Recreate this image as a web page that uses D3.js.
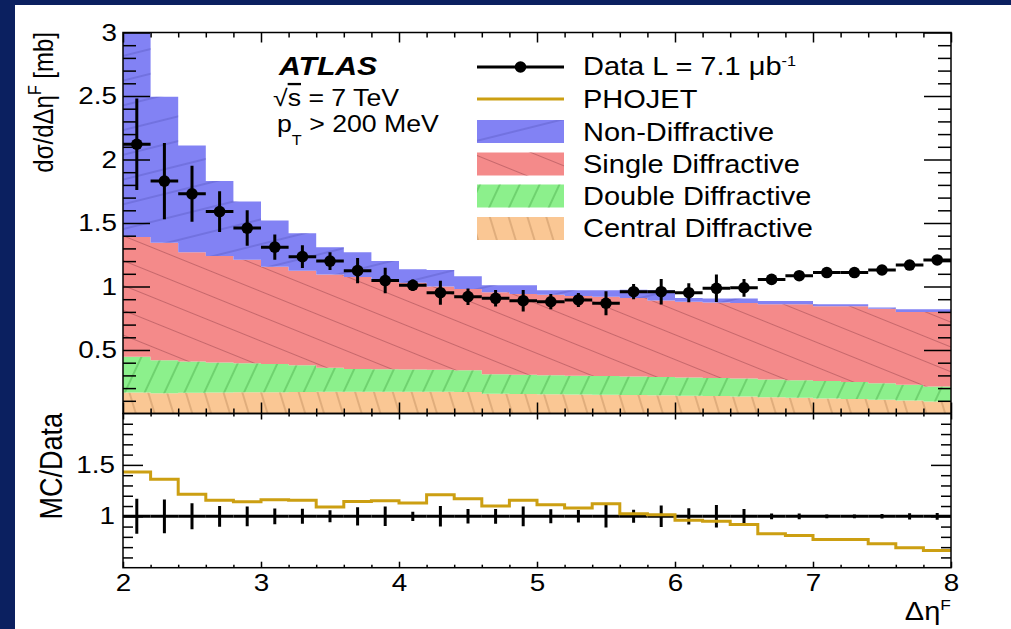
<!DOCTYPE html>
<html>
<head>
<meta charset="utf-8">
<script src="https://cdn.jsdelivr.net/npm/d3@7"></script>
<style>
  html, body { margin: 0; padding: 0; background: #ffffff; }
  svg { display: block; }
  text { font-family: "Liberation Sans", Arial, Helvetica, sans-serif; fill: #000; }
</style>
</head>
<body>
<svg id="chart" width="1011" height="629"></svg>
<script>
// ---- Δη^F bins (width 0.2) ----
const binCenters = [2.1, 2.3, 2.5, 2.7, 2.9, 3.1, 3.3, 3.5, 3.7, 3.9,
                    4.1, 4.3, 4.5, 4.7, 4.9, 5.1, 5.3, 5.5, 5.7, 5.9,
                    6.1, 6.3, 6.5, 6.7, 6.9, 7.1, 7.3, 7.5, 7.7, 7.9];
const binHalfWidth = 0.1;

// ---- measured dσ/dΔη^F [mb] ----
const dataValues = [2.12, 1.83, 1.73, 1.59, 1.46, 1.31, 1.235, 1.20, 1.125, 1.047,
                    1.01, 0.951, 0.92, 0.907, 0.888, 0.88, 0.894, 0.868, 0.959, 0.959,
                    0.951, 0.986, 0.99, 1.056, 1.085, 1.11, 1.11, 1.13, 1.169, 1.209];
const dataErrors = [0.36, 0.30, 0.22, 0.16, 0.14, 0.10, 0.09, 0.07, 0.10, 0.10,
                    0.045, 0.095, 0.065, 0.065, 0.085, 0.06, 0.055, 0.095, 0.06, 0.10,
                    0.075, 0.108, 0.07, 0.03, 0.03, 0.02, 0.02, 0.025, 0.035, 0.04];

// ---- PHOJET process contributions [mb] (stacked bottom to top) ----
const centralDiffractive = [0.165, 0.160, 0.163, 0.165, 0.167, 0.168, 0.170, 0.172, 0.172, 0.172,
                            0.172, 0.172, 0.170, 0.155, 0.154, 0.152, 0.150, 0.148, 0.146, 0.143,
                            0.140, 0.137, 0.133, 0.128, 0.124, 0.119, 0.114, 0.108, 0.102, 0.095];
const doubleDiffractive = [0.282, 0.260, 0.247, 0.237, 0.229, 0.222, 0.210, 0.188, 0.178, 0.176,
                           0.174, 0.172, 0.170, 0.155, 0.152, 0.150, 0.148, 0.147, 0.146, 0.145,
                           0.144, 0.143, 0.142, 0.140, 0.138, 0.136, 0.134, 0.130, 0.124, 0.117];
const singleDiffractive = [0.943, 0.925, 0.860, 0.838, 0.814, 0.765, 0.745, 0.735, 0.725, 0.697,
                           0.684, 0.656, 0.640, 0.645, 0.634, 0.633, 0.627, 0.625, 0.618, 0.602,
                           0.596, 0.595, 0.595, 0.592, 0.598, 0.590, 0.597, 0.587, 0.574, 0.588];
const nonDiffractive = [1.64, 1.15, 0.84, 0.59, 0.46, 0.365, 0.295, 0.215, 0.195, 0.155,
                        0.105, 0.13, 0.10, 0.055, 0.07, 0.035, 0.045, 0.05, 0.065, 0.08,
                        0.03, 0.03, 0.035, 0.025, 0.025, 0.015, 0.015, 0.01, 0.02, 0.02];

// ---- PHOJET / data ratio ----
const phojetOverData = [1.43, 1.36, 1.215, 1.155, 1.142, 1.16, 1.155, 1.09, 1.145, 1.152,
                        1.13, 1.21, 1.17, 1.10, 1.155, 1.113, 1.08, 1.123, 1.026, 1.016,
                        0.962, 0.952, 0.92, 0.83, 0.813, 0.775, 0.775, 0.733, 0.694, 0.668];

// ---- axis ticks ----
const xTickValues = [2, 3, 4, 5, 6, 7, 8];
const yTickValuesUpper = [0.5, 1, 1.5, 2, 2.5, 3];
const yTickValuesLower = [1, 1.5];

// ---- legend entries ----
const legendFills = ["Non-Diffractive", "Single Diffractive", "Double Diffractive", "Central Diffractive"];

// ================= drawing =================
const svg = d3.select("#chart");
const W = 1011, H = 629;
const SX = 1.16;            // horizontal glyph stretch
const left = 123, right = 951;
const upTop = 32.5, upBot = 413.5, loBot = 567.7;

const styles = {
  nd: { fill: "#8282f4", hatch: "#5a5ac4", angle: -14, gap: 24 },
  sd: { fill: "#f48a8a", hatch: "#bf6266", angle: 22, gap: 23 },
  dd: { fill: "#8cf08c", hatch: "#48aa48", angle: -65, gap: 18 },
  cd: { fill: "#fac794", hatch: "#bd8a5a", angle: 73, gap: 18 }
};
const gold = "#cc9f12";

svg.append("rect").attr("width", W).attr("height", H).attr("fill", "#ffffff");

const x = d3.scaleLinear().domain([2, 8]).range([left, right]);
const yU = d3.scaleLinear().domain([0, 3]).range([upBot, upTop]);
const yL = d3.scaleLinear().domain([0.5, 2.0]).range([loBot, upBot]);

const defs = svg.append("defs");
defs.append("clipPath").attr("id", "clipUpper")
  .append("rect").attr("x", left).attr("y", upTop).attr("width", right - left).attr("height", upBot - upTop);
defs.append("clipPath").attr("id", "clipLower")
  .append("rect").attr("x", left).attr("y", upBot).attr("width", right - left).attr("height", loBot - upBot);

// hatch patterns (lines only, laid over the solid fills)
Object.entries(styles).forEach(([key, s]) => {
  const p = defs.append("pattern")
    .attr("id", "hatch-" + key)
    .attr("patternUnits", "userSpaceOnUse")
    .attr("width", 60).attr("height", s.gap)
    .attr("patternTransform", `rotate(${s.angle})`);
  p.append("line")
    .attr("x1", -5).attr("x2", 65)
    .attr("y1", s.gap / 2).attr("y2", s.gap / 2)
    .attr("stroke", s.hatch).attr("stroke-width", 1).attr("stroke-opacity", 0.85);
});

// ---- stacked histograms ----
const rows = binCenters.map((c, i) => ({
  c,
  cd: centralDiffractive[i],
  dd: doubleDiffractive[i],
  sd: singleDiffractive[i],
  nd: nonDiffractive[i]
}));
const stacked = d3.stack().keys(["cd", "dd", "sd", "nd"])(rows);

const stepArea = d3.area()
  .x(p => x(p.x))
  .y0(p => yU(p.y0))
  .y1(p => yU(p.y1));

const gStack = svg.append("g").attr("clip-path", "url(#clipUpper)");
stacked.forEach(layer => {
  const pts = layer.flatMap(d => [
    { x: d.data.c - binHalfWidth, y0: d[0], y1: d[1] },
    { x: d.data.c + binHalfWidth, y0: d[0], y1: d[1] }
  ]);
  const s = styles[layer.key];
  gStack.append("path").attr("d", stepArea(pts)).attr("fill", s.fill);
  gStack.append("path").attr("d", stepArea(pts)).attr("fill", `url(#hatch-${layer.key})`);
});

// ---- data points ----
const gData = svg.append("g").attr("clip-path", "url(#clipUpper)")
  .attr("stroke", "#000").attr("stroke-width", 3);
binCenters.forEach((c, i) => {
  const v = dataValues[i], e = dataErrors[i];
  gData.append("line")
    .attr("x1", x(c - binHalfWidth)).attr("x2", x(c + binHalfWidth))
    .attr("y1", yU(v)).attr("y2", yU(v));
  gData.append("line")
    .attr("x1", x(c)).attr("x2", x(c))
    .attr("y1", yU(v - e)).attr("y2", yU(v + e));
});
svg.append("g").selectAll("circle").data(binCenters).join("circle")
  .attr("cx", c => x(c)).attr("cy", (c, i) => yU(dataValues[i]))
  .attr("r", 5.8).attr("fill", "#000");

// ---- ratio panel ----
const gRatio = svg.append("g").attr("clip-path", "url(#clipLower)");
binCenters.forEach((c, i) => {
  const rel = dataErrors[i] / dataValues[i];
  gRatio.append("line")
    .attr("x1", x(c - binHalfWidth)).attr("x2", x(c + binHalfWidth))
    .attr("y1", yL(1)).attr("y2", yL(1))
    .attr("stroke", "#000").attr("stroke-width", 3);
  gRatio.append("line")
    .attr("x1", x(c)).attr("x2", x(c))
    .attr("y1", yL(1 - rel)).attr("y2", yL(1 + rel))
    .attr("stroke", "#000").attr("stroke-width", 3);
});
const ratioPts = binCenters.flatMap((c, i) => [
  [c - binHalfWidth, phojetOverData[i]],
  [c + binHalfWidth, phojetOverData[i]]
]);
gRatio.append("path")
  .attr("d", d3.line().x(p => x(p[0])).y(p => yL(p[1]))(ratioPts))
  .attr("fill", "none").attr("stroke", gold).attr("stroke-width", 3);

// ---- axes ----
function minorValues(lo, hi, step, majors) {
  return d3.range(Math.round(lo / step), Math.round(hi / step) + 1)
    .map(k => +(k * step).toFixed(4))
    .filter(v => !majors.some(m => Math.abs(m - v) < 1e-6));
}
function styleAxis(g) {
  g.select(".domain").remove();
  g.selectAll("line").attr("stroke", "#000").attr("stroke-width", 1.5);
}
function stretchLabels(g) {
  g.selectAll("text").each(function () {
    const t = d3.select(this);
    const tx = +t.attr("x") || 0;
    const ty = +t.attr("y") || 0;
    t.attr("x", null).attr("y", null)
      .attr("transform", `translate(${tx},${ty}) scale(${SX},1)`);
  });
}

const xMajors = xTickValues;
const xMinors = minorValues(2, 8, 0.2, xMajors);
const yUMinors = minorValues(0, 3, 0.1, yTickValuesUpper.concat([0]));
const yLMinors = minorValues(0.5, 2.0, 0.1, [0.5, 1, 1.5, 2.0]);

// upper panel: left
const gL1 = svg.append("g").attr("transform", `translate(${left},0)`)
  .call(d3.axisLeft(yU).tickValues(yTickValuesUpper).tickSize(-27).tickPadding(6).tickFormat(d3.format("")))
  .call(styleAxis);
gL1.selectAll("text").attr("font-size", 24).attr("font-family", null);
stretchLabels(gL1);
svg.append("g").attr("transform", `translate(${left},0)`)
  .call(d3.axisLeft(yU).tickValues(yUMinors).tickSize(-13).tickFormat(""))
  .call(styleAxis);
// upper panel: right
svg.append("g").attr("transform", `translate(${right},0)`)
  .call(d3.axisRight(yU).tickValues(yTickValuesUpper).tickSize(-27).tickFormat(""))
  .call(styleAxis);
svg.append("g").attr("transform", `translate(${right},0)`)
  .call(d3.axisRight(yU).tickValues(yUMinors).tickSize(-13).tickFormat(""))
  .call(styleAxis);
// upper panel: top & bottom
svg.append("g").attr("transform", `translate(0,${upTop})`)
  .call(d3.axisTop(x).tickValues(xMajors).tickSize(-10).tickFormat(""))
  .call(styleAxis);
svg.append("g").attr("transform", `translate(0,${upTop})`)
  .call(d3.axisTop(x).tickValues(xMinors).tickSize(-5).tickFormat(""))
  .call(styleAxis);
svg.append("g").attr("transform", `translate(0,${upBot})`)
  .call(d3.axisBottom(x).tickValues(xMajors).tickSize(-11).tickFormat(""))
  .call(styleAxis);
svg.append("g").attr("transform", `translate(0,${upBot})`)
  .call(d3.axisBottom(x).tickValues(xMinors).tickSize(-5).tickFormat(""))
  .call(styleAxis);

// lower panel: left
const gL2 = svg.append("g").attr("transform", `translate(${left},0)`)
  .call(d3.axisLeft(yL).tickValues(yTickValuesLower).tickSize(-20).tickPadding(8).tickFormat(d3.format("")))
  .call(styleAxis);
gL2.selectAll("text").attr("font-size", 24).attr("font-family", null);
stretchLabels(gL2);
svg.append("g").attr("transform", `translate(${left},0)`)
  .call(d3.axisLeft(yL).tickValues(yLMinors).tickSize(-10).tickFormat(""))
  .call(styleAxis);
// lower panel: right
svg.append("g").attr("transform", `translate(${right},0)`)
  .call(d3.axisRight(yL).tickValues(yTickValuesLower).tickSize(-20).tickFormat(""))
  .call(styleAxis);
svg.append("g").attr("transform", `translate(${right},0)`)
  .call(d3.axisRight(yL).tickValues(yLMinors).tickSize(-10).tickFormat(""))
  .call(styleAxis);
// lower panel: top & bottom
svg.append("g").attr("transform", `translate(0,${upBot})`)
  .call(d3.axisTop(x).tickValues(xMajors).tickSize(-6).tickFormat(""))
  .call(styleAxis);
svg.append("g").attr("transform", `translate(0,${upBot})`)
  .call(d3.axisTop(x).tickValues(xMinors).tickSize(-3).tickFormat(""))
  .call(styleAxis);
const gB = svg.append("g").attr("transform", `translate(0,${loBot})`)
  .call(d3.axisBottom(x).tickValues(xMajors).tickSize(-6).tickPadding(6).tickFormat(d3.format("d")))
  .call(styleAxis);
gB.selectAll("text").attr("font-size", 24).attr("font-family", null);
stretchLabels(gB);
svg.append("g").attr("transform", `translate(0,${loBot})`)
  .call(d3.axisBottom(x).tickValues(xMinors).tickSize(-3).tickFormat(""))
  .call(styleAxis);

// frames
[[upTop, upBot], [upBot, loBot]].forEach(([t, b]) => {
  svg.append("rect")
    .attr("x", left).attr("y", t).attr("width", right - left).attr("height", b - t)
    .attr("fill", "none").attr("stroke", "#000").attr("stroke-width", 1.5);
});

// ---- text helpers ----
function label(xp, yp, size, opts = {}) {
  const rot = opts.rotate ? ` rotate(${opts.rotate})` : "";
  return svg.append("text")
    .attr("transform", `translate(${xp},${yp}) scale(${SX},1)${rot}`)
    .attr("font-size", size)
    .attr("text-anchor", opts.anchor || "start")
    .attr("font-weight", opts.weight || null)
    .attr("font-style", opts.style || null);
}

// axis titles
const yt = label(53, 32, 24, { anchor: "end", rotate: -90 });
yt.append("tspan").text("dσ/dΔη");
yt.append("tspan").attr("font-size", 16).attr("dy", -10).text("F");
yt.append("tspan").attr("dy", 10).text(" [mb]");

label(62, 413, 27, { anchor: "end", rotate: -90 }).text("MC/Data");

const xt = label(951, 620, 25, { anchor: "end" });
xt.append("tspan").text("Δη");
xt.append("tspan").attr("font-size", 15).attr("dy", -10).text("F");

// ATLAS label block
label(279, 75, 26, { weight: "bold", style: "italic" }).text("ATLAS");
const rs = label(273, 106, 23);
rs.append("tspan").text("√");
rs.append("tspan").attr("text-decoration", "overline").text("s");
rs.append("tspan").text(" = 7 TeV");
const pt = label(277, 132, 23);
pt.append("tspan").text("p");
pt.append("tspan").attr("font-size", 14).attr("dy", 13).text("T");
pt.append("tspan").attr("dy", -13).text(" > 200 MeV");

// ---- legend ----
const legX0 = 477, legX1 = 564, legTextX = 583;
svg.append("line").attr("x1", legX0).attr("x2", legX1).attr("y1", 67).attr("y2", 67)
  .attr("stroke", "#000").attr("stroke-width", 3);
svg.append("circle").attr("cx", (legX0 + legX1) / 2).attr("cy", 67).attr("r", 5.8).attr("fill", "#000");
const dl = label(legTextX, 75, 25);
dl.append("tspan").text("Data L = 7.1 μb");
dl.append("tspan").attr("font-size", 14).attr("dy", -9).text("-1");

svg.append("line").attr("x1", legX0).attr("x2", legX1).attr("y1", 99).attr("y2", 99)
  .attr("stroke", gold).attr("stroke-width", 3);
label(legTextX, 108, 25).text("PHOJET");

const legKeys = ["nd", "sd", "dd", "cd"];
const boxTops = [120, 152.5, 184.5, 217];
const textBase = [141, 172.5, 205, 237];
legendFills.forEach((name, i) => {
  const s = styles[legKeys[i]];
  svg.append("rect").attr("x", legX0).attr("y", boxTops[i]).attr("width", legX1 - legX0).attr("height", 23)
    .attr("fill", s.fill);
  svg.append("rect").attr("x", legX0).attr("y", boxTops[i]).attr("width", legX1 - legX0).attr("height", 23)
    .attr("fill", `url(#hatch-${legKeys[i]})`);
  label(legTextX, textBase[i], 25).text(name);
});

// ---- page border ----
svg.append("rect").attr("x", 0).attr("y", 0).attr("width", W).attr("height", 5).attr("fill", "#0b2060");
svg.append("rect").attr("x", 0).attr("y", 0).attr("width", 15).attr("height", H).attr("fill", "#0b2060");
</script>
</body>
</html>
